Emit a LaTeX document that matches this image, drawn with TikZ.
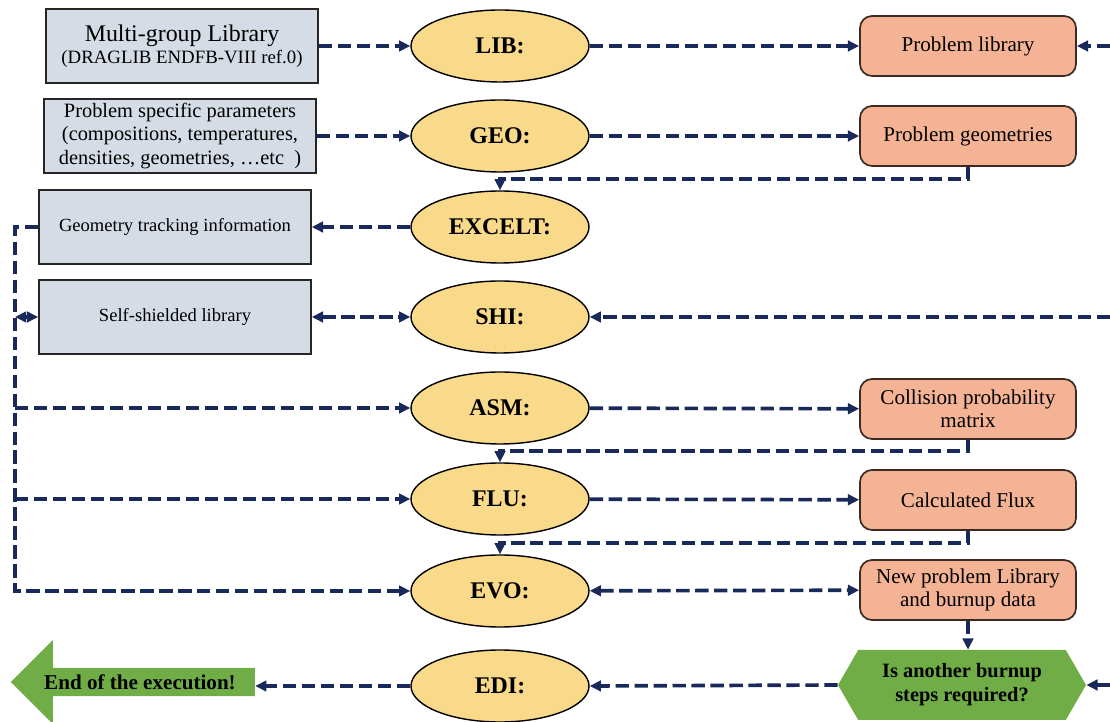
\documentclass[tikz,border=0pt]{standalone}
\usepackage{fontspec}
\setmainfont{Liberation Serif}
\usetikzlibrary{shapes.geometric,shapes.symbols,shapes.arrows,arrows.meta}
\definecolor{srcgray}{HTML}{D6DCE5}
\definecolor{modyel}{HTML}{F9D98A}
\definecolor{ressal}{HTML}{F4B394}
\definecolor{resbrd}{HTML}{3A2A22}
\definecolor{endgrn}{HTML}{70AD47}
\definecolor{lnnavy}{HTML}{18295A}
\begin{document}
\begin{tikzpicture}[>={Triangle[length=8pt,width=7.5pt]},
    src/.style={draw=black!85, line width=1.1pt, fill=srcgray, align=center, minimum width=6.8cm, minimum height=1.85cm, inner sep=2pt},
    mod/.style={ellipse, draw=black, line width=1pt, fill=modyel, minimum width=4.45cm, minimum height=1.8cm, inner sep=0pt, font=\fontsize{17}{20}\selectfont\bfseries},
    res/.style={draw=resbrd, line width=1.2pt, fill=ressal, rounded corners=0.3cm, align=center, minimum width=5.4cm, minimum height=1.5cm, font=\fontsize{15}{16.5}\selectfont},
    lnk/.style={draw=lnnavy, line width=2.6pt, dash pattern=on 9.5pt off 4pt}]
  \useasboundingbox (0,0) rectangle (27.75,18.05);
  \coordinate (bus) at (0.375,0);
  \coordinate (rim) at (27.75,0);
  % input data (left)
  \node[src, font=\fontsize{13.4}{16}\selectfont] (mglib) at (4.55,16.9) {{\fontsize{17}{20}\selectfont Multi-group Library}\\(DRAGLIB ENDFB-VIII ref.0)};
  \node[src, font=\fontsize{14.5}{16.5}\selectfont] (pspec) at (4.5,14.65) {Problem specific parameters\\(compositions, temperatures,\\densities, geometries, …etc~~)};
  \node[src, font=\fontsize{13.2}{16}\selectfont] (track) at (4.375,12.375) {Geometry tracking information};
  \node[src, font=\fontsize{13.2}{16}\selectfont] (shlib) at (4.375,10.125) {Self-shielded library};
  % DRAGON modules
  \node[mod] (lib) at (12.5,16.9) {LIB:};
  \node[mod] (geo) at (12.5,14.65) {GEO:};
  \node[mod] (excelt) at (12.5,12.375) {EXCELT:};
  \node[mod] (shi) at (12.5,10.125) {SHI:};
  \node[mod] (asm) at (12.5,7.85) {ASM:};
  \node[mod] (flu) at (12.5,5.575) {FLU:};
  \node[mod] (evo) at (12.5,3.275) {EVO:};
  \node[mod] (edi) at (12.5,0.9) {EDI:};
  % results (right)
  \node[res] (plib) at (24.2,16.9) {Problem library};
  \node[res] (pgeo) at (24.2,14.65) {Problem geometries};
  \node[res] (cpm) at (24.2,7.825) {Collision probability\\matrix};
  \node[res] (flux) at (24.2,5.55) {Calculated Flux};
  \node[res] (newlib) at (24.2,3.3) {New problem Library\\and burnup data};
  \node[signal, signal to=west and east, signal pointer angle=120, fill=endgrn, minimum width=6.2cm, minimum height=1.75cm, align=center, font=\fontsize{14.5}{17}\selectfont\bfseries] (more) at (24.05,0.925) {Is another burnup\\steps required?};
  \node[single arrow, shape border rotate=180, fill=endgrn, minimum height=6.1cm, minimum width=2.1cm, single arrow head extend=0.525cm, inner sep=2pt, font=\fontsize{15}{18}\selectfont\bfseries] (stop) at (3.5,1.0) {End of the execution!};
  % links
  \draw[lnk,->] (mglib) -- (lib);
  \draw[lnk,->] (pspec) -- (geo);
  \draw[lnk,->] (lib) -- (plib);
  \draw[lnk,->] (geo) -- (pgeo);
  \draw[lnk,->] (pgeo.south) -- ++(0,-0.3) -| (excelt.north);
  \draw[lnk,->] (excelt) -- (track);
  \draw[lnk,->] (track.west) -| (evo.west -| bus) -- (evo.west);
  \draw[lnk,->] (asm.west -| bus) -- (asm.west);
  \draw[lnk,->] (flu.west -| bus) -- (flu.west);
  \draw[lnk,<->] (shlib.west) -- (shlib.west -| bus);
  \draw[lnk,<->] (shlib) -- (shi);
  \draw[lnk,->] (shi.east -| rim) -- (shi.east);
  \draw[lnk,->] (plib.east -| rim) -- (plib.east);
  \draw[lnk,->] (more.east -| rim) -- (more.east);
  \draw[lnk,->] (asm) -- (cpm);
  \draw[lnk,->] (cpm.south) -- ++(0,-0.28) -| (flu.north);
  \draw[lnk,->] (flu) -- (flux);
  \draw[lnk,->] (flux.south) -- ++(0,-0.3) -| (evo.north);
  \draw[lnk,<->] (evo) -- (newlib);
  \draw[lnk,->] (newlib.south) -- (newlib.south |- more.north);
  \draw[lnk,->] (more.west) -- (edi.east);
  \draw[lnk,->] (edi.west) -- (stop.east |- edi.west);
\end{tikzpicture}
\end{document}
